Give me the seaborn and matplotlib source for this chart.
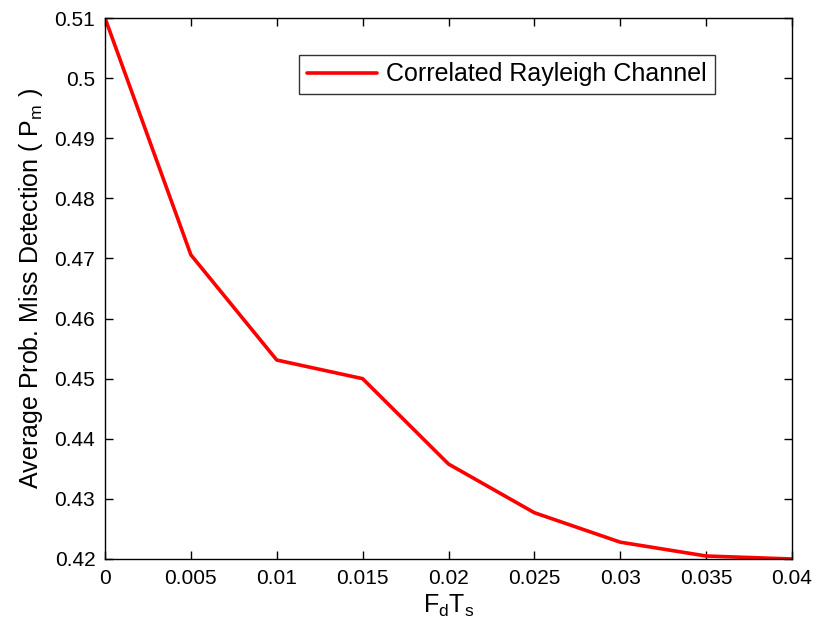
import matplotlib
matplotlib.use("Agg")
import matplotlib.pyplot as plt
import seaborn as sns
import pandas as pd

fdts = [0, 0.005, 0.01, 0.015, 0.02, 0.025, 0.03, 0.035, 0.04]
pm = [0.510, 0.4706, 0.4531, 0.4500, 0.4358, 0.4277, 0.4228, 0.4205, 0.4200]
series_name = "Correlated Rayleigh Channel"
xticks = [0, 0.005, 0.01, 0.015, 0.02, 0.025, 0.03, 0.035, 0.04]
xtick_labels = ["0", "0.005", "0.01", "0.015", "0.02", "0.025", "0.03", "0.035", "0.04"]
yticks = [0.42, 0.43, 0.44, 0.45, 0.46, 0.47, 0.48, 0.49, 0.5, 0.51]
ytick_labels = ["0.42", "0.43", "0.44", "0.45", "0.46", "0.47", "0.48", "0.49", "0.5", "0.51"]

sns.set_style("white")
plt.rcParams["font.family"] = ["Liberation Sans", "DejaVu Sans"]
plt.rcParams["mathtext.default"] = "regular"
plt.rcParams["text.color"] = "black"
plt.rcParams["axes.labelcolor"] = "black"

df = pd.DataFrame({"x": fdts, "y": pm, "series": series_name})

fig = plt.figure(figsize=(8.15, 6.28), dpi=100)
ax = fig.add_axes([105/815, 1 - 559/628, (792-105)/815, (559-18)/628])
sns.lineplot(data=df, x="x", y="y", hue="series", palette=["#ff0000"],
             linewidth=2.6, ax=ax)

ax.set_xlim(0, 0.04)
ax.set_ylim(0.42, 0.51)
ax.set_xticks(xticks)
ax.set_xticklabels(xtick_labels)
ax.set_yticks(yticks)
ax.set_yticklabels(ytick_labels)
ax.tick_params(direction="in", length=6, width=1, labelsize=15, colors="black",
               top=True, right=True, bottom=True, left=True, pad=7)
for s in ax.spines.values():
    s.set_visible(True)
    s.set_color("black")
    s.set_linewidth(1.0)

ax.set_xlabel("F$_d$T$_s$", fontsize=18, labelpad=4, color="black")
ax.set_ylabel("Average Prob. Miss Detection ( P$_m$ )", fontsize=18, labelpad=7,
              color="black")

leg = ax.legend(loc="upper left", bbox_to_anchor=((299-105)/687, 1 - (55-18)/541),
                fontsize=18, frameon=True, fancybox=False, edgecolor="black",
                handlelength=2.8, borderpad=0.3, handletextpad=0.4,
                borderaxespad=0)
leg.get_frame().set_linewidth(1.0)
for t in leg.get_texts():
    t.set_color("black")

fig.savefig("out.png", dpi=100)
